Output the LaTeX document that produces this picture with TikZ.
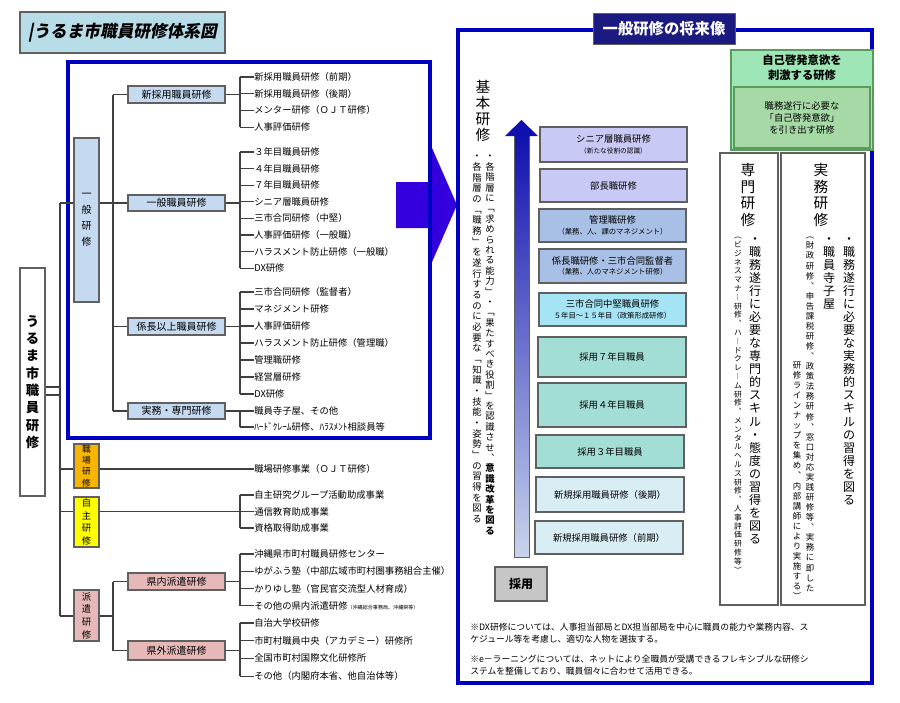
\documentclass[tikz,border=0pt]{standalone}
\usepackage{fontspec}
\setmainfont{Noto Sans CJK JP}
\newfontfamily\jpsl[FakeSlant=0.2]{Noto Sans CJK JP}
\usetikzlibrary{calc}
\definecolor{linegray}{HTML}{404040}
\definecolor{boxgray}{HTML}{606060}
\definecolor{treeblue}{HTML}{C5D9F1}
\definecolor{orng}{HTML}{F7B500}
\definecolor{yel}{HTML}{FFFF00}
\definecolor{pnk}{HTML}{E6B9B8}
\definecolor{frameblue}{HTML}{0000C0}
\definecolor{bigarrow}{HTML}{3300DD}
\definecolor{titlebg}{HTML}{B7DDE8}
\definecolor{navy}{HTML}{1A1A80}
\definecolor{lav}{HTML}{C9C9F5}
\definecolor{mgblue}{HTML}{A9C0E6}
\definecolor{cyanb}{HTML}{A4E4F4}
\definecolor{aqua}{HTML}{A3DED6}
\definecolor{paleb}{HTML}{D9EDF5}
\definecolor{greeno}{HTML}{9EE6B5}
\definecolor{greeni}{HTML}{A6D9A6}
\definecolor{greenb}{HTML}{5A9A5A}
\definecolor{arrtop}{HTML}{1010B0}
\definecolor{arrmid}{HTML}{30B8D0}
\definecolor{arrbot}{HTML}{C8D4EC}
\newcommand\fsz[1]{\fontsize{#1}{#1}\selectfont}
\makeatletter
\def\vs@loop#1{\ifx#1\relax\else\ifx#1\bfseries\bfseries\else\hbox to 1em{\hss#1\hss}\fi\expandafter\vs@loop\fi}
\newcommand\vtext[2]{\vbox{\baselineskip=#1\lineskiplimit=-100pt\lineskip=0pt\vs@loop#2\relax}}
\makeatother
\newcommand\bx[7]{\node[#6,minimum width={(#4-#2)*0.75pt},minimum height={(#5-#3)*0.75pt},inner sep=0pt] (#1) at ({(#2+#4)/2},{(#3+#5)/2}) {#7};}
\newcommand\kids[5]{%
 \foreach \kt [count=\ki] in {#5}{\node[item] (#1\ki) at (254,{#2+(\ki-1)*#3}) {\kt}; \draw[tline] (#1\ki.west) -- ++(-14,0);}
 \draw[tline] ($(#11.west)+(-14,0)$) -- ($(#1#4.west)+(-14,0)$);}
\begin{document}
\begin{tikzpicture}[x=0.75pt,y=-0.75pt,
 tline/.style={line width=0.8pt,draw=linegray},
 item/.style={anchor=west,inner sep=0pt,font=\fsz{7}},
 lbox/.style={draw=boxgray,line width=0.9pt,font=\fsz{7.5}},
 lad/.style={draw=boxgray,line width=0.9pt,font=\fsz{7},align=center},
 vt/.style={inner sep=0pt,anchor=north}]
\useasboundingbox (0,0) rectangle (900,703);
% ---------- left title
\bx{ttl}{20}{12}{225}{53}{draw=boxgray,line width=1pt,fill=titlebg}{\jpsl\bfseries\fsz{12.5}|うるま市職員研修体系図}
% big arrow
\fill[bigarrow] (396,182) -- (432,182) -- (432,148) -- (457,205) -- (432,262) -- (432,228) -- (396,228) -- cycle;
% left blue frame
\draw[frameblue,line width=2.4pt] (68,62) rectangle (430,438);
% tree boxes
\bx{uruma}{20}{268}{45}{496}{lbox,fill=white}{\fsz{10}\bfseries\vtext{13pt}{うるま市職員研修}}
\bx{ippan}{74}{138}{99}{302}{lbox,fill=treeblue}{\fsz{7.5}\vtext{12pt}{一般研修}}
\bx{shoku}{74}{444}{99}{488}{lbox,fill=orng}{\fsz{6.5}\vtext{8.5pt}{職場研修}}
\bx{jishu}{74}{497}{99}{547}{lbox,fill=yel}{\fsz{7}\vtext{9.5pt}{自主研修}}
\bx{haken}{74}{590}{99}{641}{lbox,fill=pnk}{\fsz{7}\vtext{9.5pt}{派遣研修}}
\bx{shin}{128}{86}{225}{103}{lbox,fill=treeblue}{新採用職員研修}
\bx{ipsh}{128}{195}{225}{211}{lbox,fill=treeblue}{一般職員研修}
\bx{kakari}{128}{318}{225}{335}{lbox,fill=treeblue}{係長以上職員研修}
\bx{jimu}{128}{403}{225}{419}{lbox,fill=treeblue}{実務・専門研修}
\bx{kennai}{128}{573}{225}{590}{lbox,fill=pnk}{県内派遣研修}
\bx{kengai}{128}{641}{225}{660}{lbox,fill=pnk}{県外派遣研修}
% children
\kids{a}{77}{16.7}{4}{新採用職員研修（前期）,新採用職員研修（後期）,メンター研修（ＯＪＴ研修）,人事評価研修}
\kids{b}{152}{16.6}{8}{３年目職員研修,４年目職員研修,７年目職員研修,シニア層職員研修,三市合同研修（中堅）,人事評価研修（一般職）,ハラスメント防止研修（一般職）,DX研修}
\kids{c}{292}{17}{7}{三市合同研修（監督者）,マネジメント研修,人事評価研修,ハラスメント防止研修（管理職）,管理職研修,経営層研修,DX研修}
\kids{d}{411}{16}{2}{職員寺子屋、その他,ﾊｰﾄﾞｸﾚｰﾑ研修、ﾊﾗｽﾒﾝﾄ相談員等}
\node[item] (s1) at (254,469) {職場研修事業（ＯＪＴ研修）};
\kids{j}{495}{16.5}{3}{自主研究グループ活動助成事業,通信教育助成事業,資格取得助成事業}
\kids{e}{554}{17.3}{4}{沖縄県市町村職員研修センター,ゆがふう塾（中部広域市町村圏事務組合主催）,かりゆし塾（官民官交流型人材育成）,その他の県内派遣研修{\fsz{3.8}（沖縄総合事務局、沖縄県等）}}
\kids{f}{623}{17.7}{4}{自治大学校研修,市町村職員中央（アカデミー）研修所,全国市町村国際文化研修所,その他（内閣府本省、他自治体等）}
% links parent -> bracket
\foreach \b in {shin,ipsh,kakari,jimu,kennai,kengai} \draw[tline] (\b.east) -- ++(15,0);
\draw[tline] (s1.west) -- (s1.west -| shoku.east);
\draw[tline] ($(j2.west)+(-14,0)$) -- (j2.west -| jishu.east);
% trunk
\coordinate (t1) at (60,203);
\coordinate (t2) at (60,616);
\draw[tline] (t1) -- (t2);
\draw[tline] (t1) -- (t1 -| ippan.west);
\draw[tline] (s1.west -| t1) -- (s1.west -| shoku.west);
\draw[tline] (j2.west -| t1) -- (j2.west -| jishu.west);
\draw[tline] (t2) -- (t2 -| haken.west);
\coordinate (u1) at (60,387);
\coordinate (u2) at (60,395);
\draw[tline] (u1) -- (u1 -| uruma.east);
\draw[tline] (u2) -- (u2 -| uruma.east);
\coordinate (v1) at (113,203);
\draw[tline] (v1) -- (v1 -| ippan.east);
\draw[tline] (shin.west -| v1) -- (jimu.west -| v1);
\foreach \b in {shin,ipsh,kakari,jimu} \draw[tline] (\b.west -| v1) -- (\b.west);
\coordinate (v2) at (113,616);
\draw[tline] (v2) -- (v2 -| haken.east);
\draw[tline] (kennai.west -| v2) -- (kengai.west -| v2);
\foreach \b in {kennai,kengai} \draw[tline] (\b.west -| v2) -- (\b.west);
% ---------- right panel
\draw[frameblue,line width=2.4pt] (458,30) rectangle (872,683);
\bx{rttl}{593}{13}{735}{44}{draw=boxgray,fill=navy,text=white,font=\bfseries\fsz{11.5}}{一般研修の将来像}
% ladder arrow
\shade[top color=arrtop,middle color=arrmid,bottom color=arrbot,draw=boxgray,line width=0.4pt] (514,133) rectangle (529,557);
\fill[arrtop] (505,136) -- (521.5,120) -- (538,136) -- cycle;
% ladder boxes
\bx{l1}{540}{127}{687}{162}{lad,fill=lav}{シニア層職員研修\\[1pt]{\fsz{5}（新たな役割の認識）}}
\bx{l2}{540}{169}{687}{202}{lad,fill=lav}{部長職研修}
\bx{l3}{539}{209}{686}{242}{lad,fill=mgblue}{管理職研修\\[1pt]{\fsz{5.5}（業務、人、課のマネジメント）}}
\bx{l4}{539}{249}{686}{283}{lad,fill=mgblue}{係長職研修・三市合同監督者\\[1pt]{\fsz{5.5}（業務、人のマネジメント研修）}}
\bx{l5}{539}{293}{686}{326}{lad,fill=cyanb}{三市合同中堅職員研修\\[1pt]{\fsz{5.5}５年目～１５年目（政策形成研修）}}
\bx{l6}{538}{337}{686}{377}{lad,fill=aqua}{採用７年目職員}
\bx{l7}{538}{383}{686}{427}{lad,fill=aqua}{採用４年目職員}
\bx{l8}{536}{435}{684}{468}{lad,fill=aqua}{採用３年目職員}
\bx{l9}{536}{477}{684}{512}{lad,fill=paleb}{新規採用職員研修（後期）}
\bx{l10}{535}{521}{683}{554}{lad,fill=paleb}{新規採用職員研修（前期）}
\bx{saiyo}{495}{567}{547}{601}{draw=boxgray,line width=1.2pt,fill=gray!45,font=\bfseries\fsz{9}}{採用}
% kihon texts
\node[vt] (kh) at (483,80) {\fsz{11}\vtext{12pt}{基本研修}};
\node[vt] (kh1) at (490,155) {\fsz{7}\vtext{7.8pt}{・各階層に﹁求められる能力﹂・﹁果たすべき役割﹂を認識させ︑\bfseries 意識改革を図る}};
\node[vt] (kh2) at (477,155) {\fsz{7}\vtext{8pt}{・各階層の﹁職務﹂を遂行するのに必要な﹁知識・技能・姿勢﹂の習得を図る}};
% green boxes
\bx{g1}{731}{50}{873}{150}{draw=greenb,line width=0.8pt,fill=greeno}{}
\node[font=\bfseries\fsz{8.5},align=center,inner sep=0pt] (g1t) at (802,68) {自己啓発意欲を\\[3pt]刺激する研修};
\bx{g2}{734}{87}{870}{148}{draw=greenb,line width=0.8pt,fill=greeni,align=center,font=\fsz{7}}{職務遂行に必要な\\[2pt]「自己啓発意欲」\\[2pt]を引き出す研修}
% senmon / jitsumu boxes
\bx{sm}{720}{153}{778}{605}{draw=boxgray,line width=0.9pt,fill=white}{}
\bx{jm}{781}{153}{865}{605}{draw=boxgray,line width=0.9pt,fill=white}{}
\node[vt] (smt) at (748,163) {\fsz{11}\vtext{12.5pt}{専門研修}};
\node[vt] (sm1) at (755,237) {\fsz{9}\vtext{9.8pt}{・職務遂行に必要な専門的スキル・態度の習得を図る}};
\node[vt] (sm2) at (738,237) {\fsz{5.8}\vtext{6.6pt}{︵ビジネスマナ︱研修︑ハ︱ドクレ︱ム研修︑メンタルヘルス研修︑人事評価研修等︶}};
\node[vt] (jmt) at (821,163) {\fsz{11}\vtext{12.5pt}{実務研修}};
\node[vt] (jm1) at (849,237) {\fsz{9}\vtext{9.8pt}{・職務遂行に必要な実務的スキルの習得を図る}};
\node[vt] (jm2) at (829,237) {\fsz{9}\vtext{9.8pt}{・職員寺子屋}};
\node[vt] (jm3) at (810,237) {\fsz{6.3}\vtext{7.55pt}{︵財政研修︑申告課税研修︑政策法務研修︑窓口対応実践研修等︑実務に即した}};
\node[inner sep=0pt,anchor=south] (jm4) at (797,600) {\fsz{6.3}\vtext{7.55pt}{研修ラインナップを集め︑内部講師により実施する︶}};
% notes
\node[anchor=north west,inner sep=0pt,font=\fsz{6.6},align=left] (n1) at (470,623) {※DX研修については、人事担当部局とDX担当部局を中心に職員の能力や業務内容、ス\\[2pt]ケジュール等を考慮し、適切な人物を選抜する。};
\node[anchor=north west,inner sep=0pt,font=\fsz{6.6},align=left] (n2) at (470,655) {※e－ラーニングについては、ネットにより全職員が受講できるフレキシブルな研修シ\\[2pt]ステムを整備しており、職員個々に合わせて活用できる。};
\end{tikzpicture}
\end{document}
